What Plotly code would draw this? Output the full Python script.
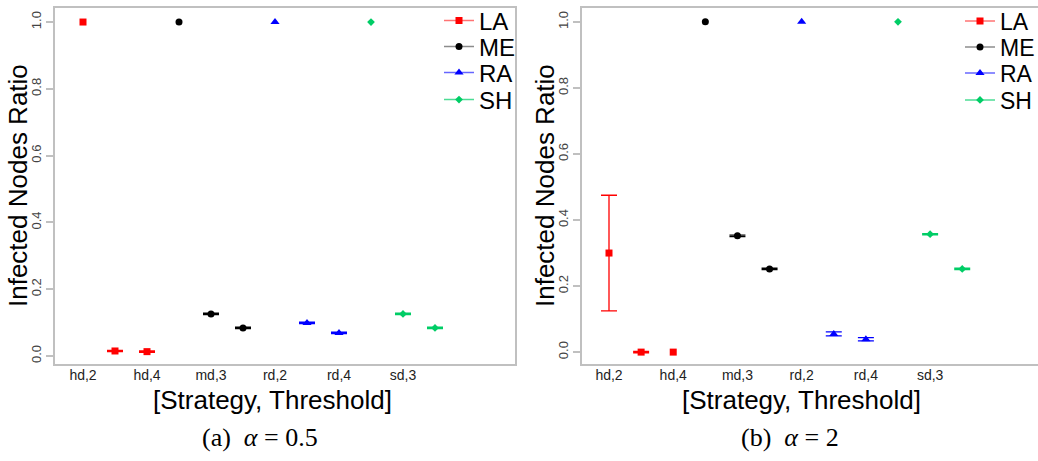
import plotly.graph_objects as go

# ---------------- data ----------------
categories = ["hd,2", "hd,3", "hd,4", "md,2", "md,3", "md,4",
              "rd,2", "rd,3", "rd,4", "sd,2", "sd,3", "sd,4"]
tick_labels = ["hd,2", "hd,4", "md,3", "rd,2", "rd,4", "sd,3"]
series_names = ["LA", "ME", "RA", "SH"]

# x categories for each series
la_x = ["hd,2", "hd,3", "hd,4"]
me_x = ["md,2", "md,3", "md,4"]
ra_x = ["rd,2", "rd,3", "rd,4"]
sh_x = ["sd,2", "sd,3", "sd,4"]

# panel (a) alpha = 0.5
a_la = [1.0, 0.015, 0.013]
a_me = [1.0, 0.126, 0.084]
a_ra = [1.0, 0.099, 0.069]
a_sh = [1.0, 0.126, 0.084]
a_la_err = [None, 0.002, 0.002]
a_me_err = [None, 0.002, 0.002]
a_ra_err = [None, 0.002, 0.002]
a_sh_err = [None, 0.002, 0.002]

# panel (b) alpha = 2
b_la = [0.30, 0.0, 0.0]
b_me = [1.0, 0.352, 0.252]
b_ra = [1.0, 0.055, 0.039]
b_sh = [1.0, 0.357, 0.252]
b_la_err = [0.175, 0.002, None]
b_me_err = [None, 0.002, 0.002]
b_ra_err = [None, 0.006, 0.005]
b_sh_err = [None, 0.002, 0.002]

y_ticks = [0.0, 0.2, 0.4, 0.6, 0.8, 1.0]

# ---------------- styles ----------------
colors = {"LA": "#FF0000", "ME": "#000000", "RA": "#0000FF", "SH": "#00CD66"}
line_colors = {"LA": "rgba(255,0,0,0.55)", "ME": "rgba(0,0,0,0.45)",
               "RA": "rgba(0,0,255,0.6)", "SH": "rgba(0,205,102,0.7)"}
symbols = {"LA": "square", "ME": "circle", "RA": "triangle-up", "SH": "diamond"}
sizes = {"LA": 7, "ME": 7, "RA": 8, "SH": 6}

W, H = 1038, 461
FONT = "Liberation Sans"


def gapped(vals):
    out = []
    for k, v in enumerate(vals):
        if k:
            out.append(None)
        out.append(v)
    return out


def gapped_err(errs):
    out = []
    for k, e in enumerate(errs):
        if k:
            out.append(0)
        out.append("NaN" if e is None else e)
    return out


fig = go.Figure()

panels = [
    ("x", "y", {"LA": (la_x, a_la, a_la_err), "ME": (me_x, a_me, a_me_err),
                "RA": (ra_x, a_ra, a_ra_err), "SH": (sh_x, a_sh, a_sh_err)}),
    ("x2", "y2", {"LA": (la_x, b_la, b_la_err), "ME": (me_x, b_me, b_me_err),
                  "RA": (ra_x, b_ra, b_ra_err), "SH": (sh_x, b_sh, b_sh_err)}),
]

legend_ids = []
for p, (xa, ya, data) in enumerate(panels):
    for s, name in enumerate(series_names):
        xs, ys, es = data[name]
        lid = "legend%d" % (p * 4 + s + 2)
        legend_ids.append(lid)
        fig.add_trace(go.Scatter(
            x=gapped(xs), y=gapped(ys), xaxis=xa, yaxis=ya,
            mode="lines+markers", name=name, legend=lid,
            connectgaps=False,
            line=dict(color=line_colors[name], width=1.5),
            marker=dict(symbol=symbols[name], size=sizes[name], color=colors[name],
                        line=dict(width=0)),
            error_y=dict(type="data", array=gapped_err(es), visible=True,
                         color=colors[name], thickness=1.3, width=8),
            cliponaxis=False,
        ))

y_dom = [1 - 364 / H, 1 - 8 / H]
axis_common = dict(showgrid=False, zeroline=False, showline=True,
                   linecolor="#c0c0c0", linewidth=2)

fig.update_layout(
    width=W, height=H, plot_bgcolor="white", paper_bgcolor="white",
    margin=dict(l=0, r=0, t=0, b=0, autoexpand=False),
    font=dict(family=FONT, color="#000"),
    showlegend=True,
    xaxis=dict(domain=[55 / W, 515 / W], type="category", categoryorder="array",
               categoryarray=categories, range=[-0.875, 13.5], mirror=True,
               tickmode="array", tickvals=tick_labels, ticktext=tick_labels,
               ticks="", tickfont=dict(size=14, color="#222"), anchor="y",
               ticklabelstandoff=-3,
               **axis_common),
    yaxis=dict(domain=y_dom, range=[-0.024, 1.042], mirror=True,
               tickmode="array", tickvals=y_ticks,
               ticktext=["%.1f" % v for v in y_ticks],
               ticks="outside", ticklen=7, tickcolor="#c0c0c0", tickwidth=1.5,
               tickangle=-90, tickfont=dict(size=13, color="#444"), anchor="x",
               **axis_common),
    xaxis2=dict(domain=[582 / W, 1.0], type="category", categoryorder="array",
                categoryarray=categories, range=[-0.841, 13.36], mirror=True,
                tickmode="array", tickvals=tick_labels, ticktext=tick_labels,
                ticks="", tickfont=dict(size=14, color="#222"), anchor="y2",
                ticklabelstandoff=-3,
                **axis_common),
    yaxis2=dict(domain=y_dom, range=[-0.036, 1.042], mirror=False,
                tickmode="array", tickvals=y_ticks,
                ticktext=["%.1f" % v for v in y_ticks],
                ticks="outside", ticklen=7, tickcolor="#c0c0c0", tickwidth=1.5,
                tickangle=-90, tickfont=dict(size=13, color="#444"), anchor="x2",
                **axis_common),
)

# legends: one per entry so that the spacing follows the reference
legend_text_x = [479, 1000]
legend_font = [24, 23]
legend_y_px = [21, 47, 73, 100]
for p in range(2):
    for s in range(4):
        lid = legend_ids[p * 4 + s]
        fig.update_layout({lid: dict(
            x=(legend_text_x[p] - 40) / W, xanchor="left", xref="paper",
            y=1 - legend_y_px[s] / H, yanchor="middle", yref="paper",
            bgcolor="rgba(0,0,0,0)", borderwidth=0,
            font=dict(size=legend_font[p], family=FONT, color="#000"),
        )})

# axis titles and captions
for xc in [272, 801]:
    fig.add_annotation(text="[Strategy, Threshold]", x=xc / W, y=1 - 400 / H,
                       xref="paper", yref="paper", showarrow=False,
                       xanchor="center", yanchor="middle",
                       font=dict(size=26, family=FONT, color="#000"))
for xc in [18, 545]:
    fig.add_annotation(text="Infected Nodes Ratio", x=xc / W, y=1 - 186 / H,
                       xref="paper", yref="paper", showarrow=False, textangle=-90,
                       xanchor="center", yanchor="middle",
                       font=dict(size=26, family=FONT, color="#000"))
for xc, cap in [(260, "(a)  <i>α</i> = 0.5"), (790, "(b)  <i>α</i> = 2")]:
    fig.add_annotation(text=cap, x=xc / W, y=1 - 437 / H,
                       xref="paper", yref="paper", showarrow=False,
                       xanchor="center", yanchor="middle",
                       font=dict(size=26, family="Liberation Serif", color="#000"))

fig.write_html("out.html", config={"displayModeBar": False},
               post_script="document.body.style.margin='0';")
